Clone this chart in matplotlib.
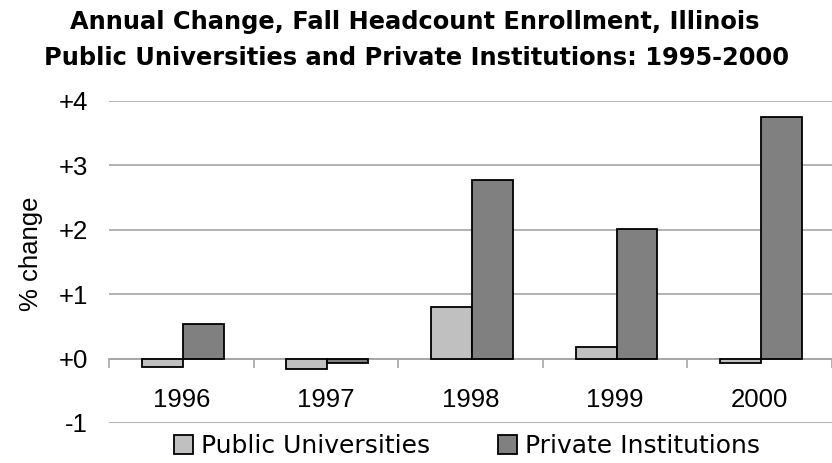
import matplotlib
matplotlib.use('Agg')
import matplotlib.pyplot as plt
from matplotlib.patches import Patch

# ─── DATOS ───────────────────────────────────────────────────
years = ['1996', '1997', '1998', '1999', '2000']
public_univ = [-0.13, -0.16, 0.80, 0.18, -0.07]
private_inst = [0.53, -0.07, 2.77, 2.01, 3.75]
ytick_vals = [-1, 0, 1, 2, 3, 4]
ytick_labels = ['-1', '+0', '+1', '+2', '+3', '+4']
# ─────────────────────────────────────────────────────────────

plt.rcParams['font.family'] = ['Liberation Sans', 'DejaVu Sans']

C_PUB = '#c0c0c0'
C_PRIV = '#808080'
C_GRID = '#a6a6a6'

fig = plt.figure(figsize=(8.32, 4.63), dpi=100)
ax = fig.add_axes([0.131, 0.0864, 0.869, 0.6955])

x = list(range(len(years)))
w = 0.283
off = 0.01
ax.bar([i - w + off for i in x], public_univ, width=w, align='edge',
       color=C_PUB, edgecolor='black', linewidth=1.3, zorder=3)
ax.bar([i + off for i in x], private_inst, width=w, align='edge',
       color=C_PRIV, edgecolor='black', linewidth=1.3, zorder=3)

ax.set_xlim(-0.5, len(years) - 0.5)
ax.set_ylim(-1, 4)
ax.set_yticks(ytick_vals)
ax.set_yticklabels(ytick_labels)
ax.yaxis.grid(True, color=C_GRID, linewidth=1.2, zorder=0)
ax.set_axisbelow(True)

for s in ['top', 'right', 'left']:
    ax.spines[s].set_visible(False)
ax.spines['bottom'].set_position(('data', 0))
ax.spines['bottom'].set_color(C_GRID)
ax.spines['bottom'].set_linewidth(1.2)
ax.spines['bottom'].set_zorder(2)

ax.set_xticks(x)
ax.set_xticklabels(years)
ax.set_xticks([i - 0.5 for i in range(len(years) + 1)], minor=True)
ax.tick_params(axis='x', which='major', length=0, pad=21, labelsize=18.5)
ax.tick_params(axis='x', which='minor', length=6.5, width=1.2, color=C_GRID)
ax.tick_params(axis='y', length=0, pad=15, labelsize=18.5)

fig.text(31 / 832, 1 - 254 / 463, '% change', rotation=90,
         ha='center', va='center', fontsize=18.5)

# titulo en dos lineas, fuente ancha como en el original
fig.text(0.499, 1 - 29 / 463, 'Annual Change, Fall Headcount Enrollment, Illinois',
         ha='center', va='baseline', fontsize=17.4, fontweight='bold',
         family='DejaVu Sans')
fig.text(0.5, 1 - 65 / 463, 'Public Universities and Private Institutions: 1995-2000',
         ha='center', va='baseline', fontsize=17.4, fontweight='bold',
         family='DejaVu Sans')

handles = [Patch(facecolor=C_PUB, edgecolor='black', linewidth=1.3, label='Public Universities'),
           Patch(facecolor=C_PRIV, edgecolor='black', linewidth=1.3, label='Private Institutions')]
fig.legend(handles=handles, loc='center', bbox_to_anchor=(467 / 832, 1 - 446 / 463),
           ncol=2, frameon=False, handlelength=0.76, handleheight=0.76,
           handletextpad=0.3, columnspacing=2.75, borderpad=0,
           prop={'family': 'DejaVu Sans', 'size': 18})

fig.savefig('out.png', dpi=100)
